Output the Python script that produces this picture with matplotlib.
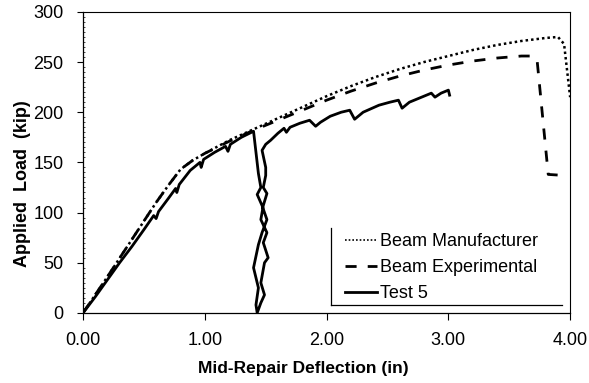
import matplotlib
matplotlib.use('Agg')
import matplotlib.pyplot as plt
from matplotlib.lines import Line2D
from matplotlib.ticker import MultipleLocator

plt.rcParams['font.family'] = ['Liberation Sans', 'DejaVu Sans']

# Beam Manufacturer (dotted)
mfr_x = [0.00, 0.20, 0.40, 0.60, 0.70, 0.80, 0.90, 1.00, 1.20, 1.40, 1.60, 1.80,
         2.00, 2.20, 2.40, 2.60, 2.80, 3.00, 3.20, 3.40, 3.60, 3.80, 3.90, 3.95, 4.00]
mfr_y = [0, 36, 73, 110, 127, 143, 152, 159, 172, 183, 194, 205,
         216, 226, 235, 243, 250, 256, 262, 267, 271, 274, 275, 268, 215]

# Beam Experimental (dashed)
exp_x = [0.00, 0.20, 0.40, 0.60, 0.70, 0.80, 0.90, 1.00, 1.20, 1.40, 1.60, 1.80,
         2.00, 2.20, 2.40, 2.60, 2.80, 3.00, 3.20, 3.40, 3.60, 3.70, 3.73, 3.82, 3.95]
exp_y = [0, 36, 73, 110, 127, 143, 152, 159, 171, 182, 192, 202,
         212, 221, 229, 236, 242, 247, 251, 254, 256, 256, 250, 138, 137]

# Test 5 (solid): loading, unload/reload loop, then reloading to the end
t5_x = [0.00, 0.10, 0.20, 0.30, 0.40, 0.50, 0.58, 0.60, 0.62, 0.70, 0.76, 0.77,
        0.79, 0.88, 0.96, 0.97, 0.99, 1.08, 1.17, 1.19, 1.21, 1.30, 1.40,
        1.42, 1.44, 1.46, 1.43, 1.47, 1.51, 1.47, 1.44, 1.40, 1.44, 1.42, 1.43,
        1.46, 1.49, 1.46, 1.49, 1.52, 1.48, 1.51, 1.46, 1.48, 1.51, 1.48, 1.50,
        1.50, 1.47, 1.50, 1.54, 1.60, 1.65, 1.67, 1.70, 1.78, 1.86, 1.91, 1.95,
        2.03, 2.12, 2.19, 2.23, 2.30, 2.43, 2.52, 2.59, 2.62, 2.68, 2.78, 2.86,
        2.89, 2.94, 3.00, 3.01]
t5_y = [0, 16, 33, 50, 66, 83, 97, 94, 101, 114, 124, 120,
        128, 142, 150, 145, 153, 160, 166, 161, 168, 175, 181,
        160, 139, 125, 118, 107, 93, 80, 68, 45, 25, 8, 0,
        10, 18, 30, 50, 55, 70, 80, 93, 107, 119, 125, 137,
        145, 162, 168, 172, 179, 184, 180, 185, 189, 192, 186, 190,
        196, 200, 202, 193, 200, 207, 210, 212, 204, 210, 215, 219,
        215, 219, 222, 217]

x_ticks = [0, 1, 2, 3, 4]
x_tick_labels = ['0.00', '1.00', '2.00', '3.00', '4.00']
y_ticks = [0, 50, 100, 150, 200, 250, 300]

fig = plt.figure(figsize=(5.89, 3.83), dpi=100)
ax = fig.add_axes([0.141, 0.183, 0.827, 0.786])

ax.plot(mfr_x, mfr_y, color='black', lw=1.8, linestyle=(0, (1, 1.2)),
        label='Beam Manufacturer')
ax.plot(exp_x, exp_y, color='black', lw=2.0, linestyle=(0, (4, 4)),
        label='Beam Experimental')
ax.plot(t5_x, t5_y, color='black', lw=2.0, label='Test 5')

ax.set_xlim(0, 4)
ax.set_ylim(0, 300)
ax.set_xticks(x_ticks)
ax.set_xticklabels(x_tick_labels)
ax.set_yticks(y_ticks)
ax.yaxis.set_minor_locator(MultipleLocator(5))

ax.tick_params(axis='x', direction='out', length=5, width=0.8, pad=9, labelsize=13)
ax.tick_params(axis='y', which='major', direction='out', length=4, width=0.8,
               pad=10, labelsize=13)
ax.tick_params(axis='y', which='minor', direction='in', length=1.5, width=0.5)

for side in ('top', 'right'):
    ax.spines[side].set_linestyle((0, (1, 1)))
    ax.spines[side].set_linewidth(0.8)
for side in ('left', 'bottom'):
    ax.spines[side].set_linewidth(0.9)

ax.set_xlabel('Mid-Repair Deflection (in)', fontsize=12.5, fontweight='bold')
ax.set_ylabel('Applied  Load  (kip)', fontsize=13, fontweight='bold')
ax.xaxis.set_label_coords(0.452, -0.16)
ax.yaxis.set_label_coords(-0.107, 0.43)

leg = ax.legend(loc='lower left', bbox_to_anchor=(0.531, 0.023), frameon=False,
                fontsize=13, handlelength=1.75, handletextpad=0.17,
                labelspacing=0.5, borderaxespad=0, borderpad=0.2)
leg.get_lines()[0].set_linewidth(1.2)

# legend box shows only its left and bottom edges
ax.add_line(Line2D([0.509, 0.509], [0.027, 0.282], transform=ax.transAxes,
                   color='black', lw=0.9))
ax.add_line(Line2D([0.509, 0.984], [0.027, 0.027], transform=ax.transAxes,
                   color='black', lw=0.9))

fig.savefig('out.png', dpi=100)
